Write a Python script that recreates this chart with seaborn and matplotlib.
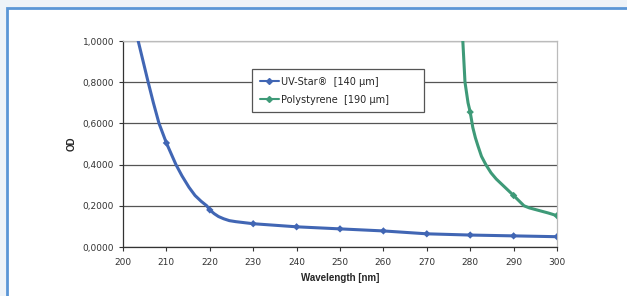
import matplotlib
matplotlib.use("Agg")
import matplotlib.pyplot as plt
import seaborn as sns
import pandas as pd
from matplotlib.patches import Rectangle

# marker points (every 10 nm)
uv_wl = [210, 220, 230, 240, 250, 260, 270, 280, 290, 300]
uv_od = [0.505, 0.18, 0.113, 0.098, 0.088, 0.078, 0.064, 0.058, 0.054, 0.050]
ps_wl = [280, 290, 300]
ps_od = [0.655, 0.250, 0.152]

# curve
uv_curve_wl = [203.5, 205.8, 207, 208.3, 210, 212.2, 213.6, 215.2, 216.6, 218, 219.3, 220, 221, 222,
               223.2, 224.5, 226, 228, 230, 240, 250, 260, 270, 280, 290, 300]
uv_curve_od = [1.0, 0.8, 0.7, 0.6, 0.505, 0.4, 0.345, 0.29, 0.25, 0.222, 0.2, 0.18, 0.162, 0.148,
               0.137, 0.128, 0.123, 0.118, 0.113, 0.098, 0.088, 0.078, 0.064, 0.058, 0.054, 0.050]
ps_curve_wl = [278.3, 278.8, 279.5, 280, 280.6, 281.2, 281.8, 282.6, 283.6, 284.8, 286, 288, 290,
               291.2, 292.4, 293.6, 295, 298, 300]
ps_curve_od = [1.0, 0.8, 0.7, 0.655, 0.58, 0.53, 0.49, 0.44, 0.4, 0.36, 0.33, 0.29, 0.25,
               0.225, 0.2, 0.19, 0.182, 0.165, 0.152]

labels = ["UV-Star\u00ae  [140 \u00b5m]", "Polystyrene  [190 \u00b5m]"]
blue = "#4166b4"
green = "#3e9a78"

sns.set_style("white")
plt.rcParams["font.family"] = ["Liberation Sans", "DejaVu Sans"]

fig = plt.figure(figsize=(6.27, 2.96), dpi=100)
fig.patch.set_facecolor("#eef3f8")
fig.patches.append(Rectangle((7 / 627, -0.1), 1.1, 1 - 8 / 296 + 0.1, transform=fig.transFigure,
                             facecolor="white", edgecolor="#5b96d6", linewidth=2, zorder=-5))

ax = fig.add_axes([123 / 627, 1 - 247 / 296, (557 - 123) / 627, (247 - 41) / 296])
ax.set_facecolor("white")

curves = pd.DataFrame({"wl": uv_curve_wl + ps_curve_wl, "od": uv_curve_od + ps_curve_od,
                       "series": [labels[0]] * len(uv_curve_wl) + [labels[1]] * len(ps_curve_wl)})
points = pd.DataFrame({"wl": uv_wl + ps_wl, "od": uv_od + ps_od,
                       "series": [labels[0]] * len(uv_wl) + [labels[1]] * len(ps_wl)})
pal = {labels[0]: blue, labels[1]: green}

sns.lineplot(data=curves, x="wl", y="od", hue="series", palette=pal, sort=False,
             linewidth=2.2, ax=ax, legend=False, zorder=3)
sns.scatterplot(data=points, x="wl", y="od", hue="series", palette=pal, marker="D",
                s=14, edgecolor="none", ax=ax, legend=False, zorder=4)

ax.set_xlim(200, 300)
ax.set_ylim(0, 1.0)
ax.set_xticks(range(200, 301, 10))
ax.set_yticks([0, 0.2, 0.4, 0.6, 0.8, 1.0])
ax.set_yticklabels(["0,0000", "0,2000", "0,4000", "0,6000", "0,8000", "1,0000"])
ax.yaxis.grid(True, color="#555555", linewidth=0.9)
ax.set_axisbelow(True)
for s in ["top", "right"]:
    ax.spines[s].set_color("#bbbbbb")
    ax.spines[s].set_linewidth(0.9)
for s in ["left", "bottom"]:
    ax.spines[s].set_color("#333333")
    ax.spines[s].set_linewidth(0.9)
ax.tick_params(axis="both", labelsize=6.5, colors="#333333", length=3, width=0.8, direction="out",
               left=True, bottom=True)
ax.tick_params(axis="x", pad=5)
for t in ax.get_xticklabels() + ax.get_yticklabels():
    t.set_fontfamily("DejaVu Sans")
ax.set_xlabel("Wavelength [nm]", fontsize=7, fontweight="bold", labelpad=4)
ax.set_ylabel("OD", fontsize=7, fontweight="bold", labelpad=4)

handles = [plt.Line2D([], [], color=blue, lw=1.5, marker="D", markersize=3),
           plt.Line2D([], [], color=green, lw=1.5, marker="D", markersize=3)]
leg = ax.legend(handles, labels, loc="upper left", bbox_to_anchor=(0.297, 0.864, 0.396, 0.0),
                mode="expand", prop={"family": "DejaVu Sans", "size": 7},
                frameon=True, fancybox=False, edgecolor="#555555", framealpha=1,
                handlelength=2.0, borderpad=0.8, labelspacing=0.8, handletextpad=0.2,
                borderaxespad=0)
leg.get_frame().set_linewidth(0.9)

fig.savefig("out.png", dpi=100, facecolor=fig.get_facecolor())
